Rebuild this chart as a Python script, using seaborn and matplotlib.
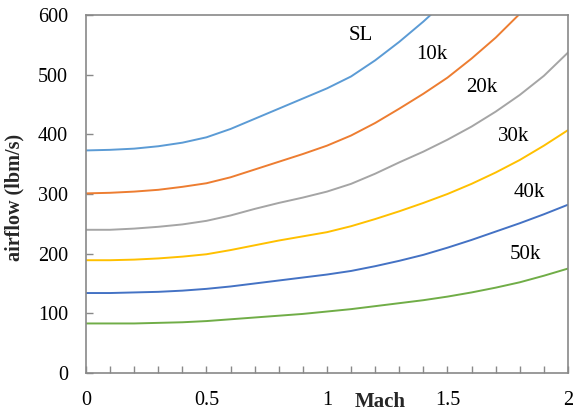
import numpy as np
import pandas as pd
import matplotlib
matplotlib.use("Agg")
import matplotlib.pyplot as plt
import seaborn as sns
from matplotlib.ticker import MultipleLocator

# Mach grid (0.0 .. 2.0 step 0.1)
mach = [0.0, 0.1, 0.2, 0.3, 0.4, 0.5, 0.6, 0.7, 0.8, 0.9, 1.0,
        1.1, 1.2, 1.3, 1.4, 1.5, 1.6, 1.7, 1.8, 1.9, 2.0]

# airflow (lbm/s), one list per altitude
sl = [373, 374, 376, 380, 386, 395, 409, 426, 443, 460, 477,
      497, 524, 555, 589, 626]
alt_10k = [301, 302, 304, 307, 312, 318, 328, 341, 354, 367, 381,
           398, 419, 443, 468, 495, 527, 562, 602]
alt_20k = [240, 240, 242, 245, 249, 255, 264, 275, 285, 294, 304,
           317, 334, 353, 371, 391, 413, 438, 466, 498, 537]
alt_30k = [189, 189, 190, 192, 195, 199, 206, 214, 222, 229, 236,
           246, 258, 271, 285, 300, 317, 336, 357, 381, 407]
alt_40k = [134, 134, 135, 136, 138, 141, 145, 150, 155, 160, 165,
           171, 179, 188, 198, 210, 223, 237, 251, 266, 282]
alt_50k = [83, 83, 83, 84, 85, 87, 90, 93, 96, 99, 103,
           107, 112, 117, 122, 128, 135, 143, 152, 163, 175]

series_names = ["SL", "10k", "20k", "30k", "40k", "50k"]
series_vals = [sl, alt_10k, alt_20k, alt_30k, alt_40k, alt_50k]
colors = ["#5B9BD5", "#ED7D31", "#A5A5A5", "#FFC000", "#4472C4", "#70AD47"]

# label positions (Mach, airflow)
label_x = [1.14, 1.434, 1.641, 1.774, 1.84, 1.823]
label_y = [565, 533, 479, 397, 303, 199]

rows = []
for name, vals in zip(series_names, series_vals):
    for m, v in zip(mach, vals):
        rows.append({"Mach": m, "airflow": v, "alt": name})
df = pd.DataFrame(rows)

sns.set_theme(style="white")
plt.rcParams["font.family"] = ["Liberation Serif", "DejaVu Serif"]

fig = plt.figure(figsize=(5.74, 4.13), dpi=100)
ax = fig.add_axes([0.1498, 0.0969, 0.8397, 0.8668])

sns.lineplot(data=df, x="Mach", y="airflow", hue="alt",
             palette=dict(zip(series_names, colors)), hue_order=series_names,
             linewidth=1.4, legend=False, ax=ax)

for name, lx, ly in zip(series_names, label_x, label_y):
    ax.text(lx, ly, name, fontsize=15, ha="center", va="center", color="black")

ax.set_xlim(0, 2)
ax.set_ylim(0, 600)
ax.xaxis.set_major_locator(MultipleLocator(0.5))
ax.xaxis.set_minor_locator(MultipleLocator(0.1))
ax.yaxis.set_major_locator(MultipleLocator(100))
ax.set_xticks([0, 0.5, 1, 1.5, 2])
ax.set_xticklabels(["0", "0.5", "1", "1.5", "2"])

spine_color = "#898989"
for s in ax.spines.values():
    s.set_color(spine_color)
    s.set_linewidth(1.2)

ax.tick_params(axis="x", which="both", direction="in", length=5, width=1,
               color=spine_color, labelsize=14.5, pad=13, labelcolor="black",
               bottom=True, top=False)
ax.tick_params(axis="y", which="major", direction="in", length=5, width=1,
               color=spine_color, labelsize=14.5, pad=13, labelcolor="black",
               left=True, right=False)

ax.set_xlabel("Mach", fontsize=15, fontweight="bold")
ax.set_ylabel("airflow (lbm/s)", fontsize=14.5, fontweight="bold")
ax.xaxis.set_label_coords(0.61, -0.052)
ax.yaxis.set_label_coords(-0.127, 0.489)

fig.savefig("out.png", dpi=100)
